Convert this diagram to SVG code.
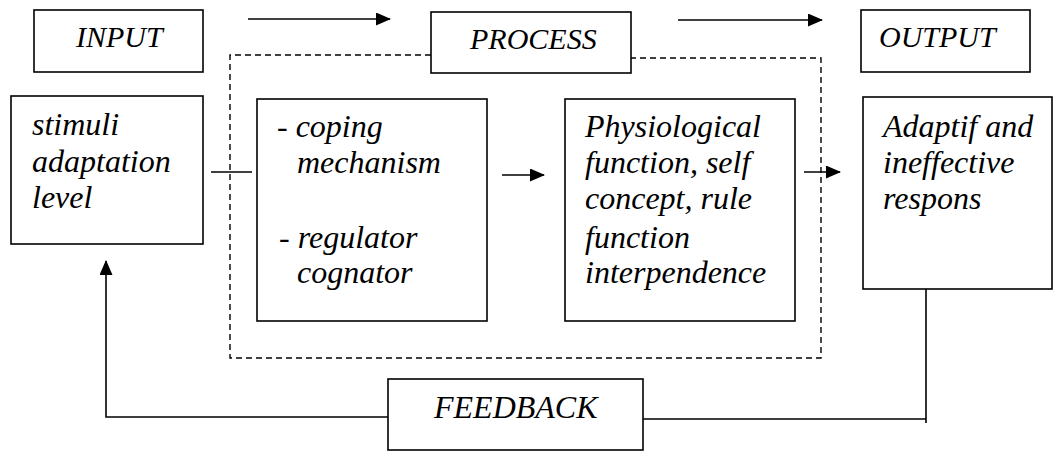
<svg xmlns="http://www.w3.org/2000/svg" width="1054" height="451" viewBox="0 0 1054 451" font-family="Liberation Serif, Times New Roman, serif" font-style="italic">
<defs>
<style>
.box{fill:#fff;stroke:#000;stroke-width:1.6}
.ln{fill:none;stroke:#000;stroke-width:1.6}
.dash{fill:none;stroke:#000;stroke-width:1.4;stroke-dasharray:6 4}
</style>
<marker id="ah" markerWidth="15" markerHeight="13" refX="14" refY="6.5" orient="auto" markerUnits="userSpaceOnUse">
<path d="M0,0 L15,6.5 L0,13 Z" fill="#000"/>
</marker>
</defs>
<rect width="1054" height="451" fill="#fff"/>
<g id="process-area">
<path class="dash" d="M431,55 H230 V358 H821 V58 H631"/>
</g>
<g id="connectors">
<line class="ln" x1="248" y1="19" x2="390" y2="19" marker-end="url(#ah)"/>
<line class="ln" x1="678" y1="20" x2="822" y2="20" marker-end="url(#ah)"/>
<line class="ln" x1="211" y1="172" x2="252" y2="172"/>
<line class="ln" x1="502" y1="175" x2="544" y2="175" marker-end="url(#ah)"/>
<line class="ln" x1="804" y1="172" x2="840" y2="172" marker-end="url(#ah)"/>
<path class="ln" d="M926,289 V423 M643,419 H926"/>
<path class="ln" d="M388,417 H106 V261" marker-end="url(#ah)"/>
</g>
<g id="input"><rect class="box" x="34" y="10" width="169" height="62"/><text font-size="30" x="76" y="47">INPUT</text></g>
<g id="process"><rect class="box" x="431" y="12" width="200" height="61"/><text font-size="30" x="470" y="49">PROCESS</text></g>
<g id="output"><rect class="box" x="861" y="10" width="169" height="62"/><text font-size="30" x="879" y="47">OUTPUT</text></g>
<g id="stimuli"><rect class="box" x="11" y="96" width="192" height="148"/>
<text font-size="32" x="32" y="135">stimuli</text>
<text font-size="32" x="32" y="172">adaptation</text>
<text font-size="32" x="32" y="208">level</text></g>
<g id="coping"><rect class="box" x="257" y="99" width="230" height="222"/>
<text font-size="32" x="277" y="137">- coping</text>
<text font-size="32" x="297" y="173">mechanism</text>
<text font-size="32" x="279" y="248">- regulator</text>
<text font-size="32" x="297" y="283">cognator</text></g>
<g id="physio"><rect class="box" x="565" y="99" width="230" height="222"/>
<text font-size="32" x="585" y="137">Physiological</text>
<text font-size="32" x="585" y="173">function, self</text>
<text font-size="32" x="585" y="209">concept, rule</text>
<text font-size="32" x="585" y="248">function</text>
<text font-size="32" x="585" y="283">interpendence</text></g>
<g id="response"><rect class="box" x="863" y="97" width="189" height="192"/>
<text font-size="32" x="883" y="137">Adaptif and</text>
<text font-size="32" x="883" y="173">ineffective</text>
<text font-size="32" x="883" y="209">respons</text></g>
<g id="feedback"><rect class="box" x="388" y="379" width="255" height="71"/>
<text font-size="32" x="434" y="418">FEEDBACK</text></g>
</svg>
